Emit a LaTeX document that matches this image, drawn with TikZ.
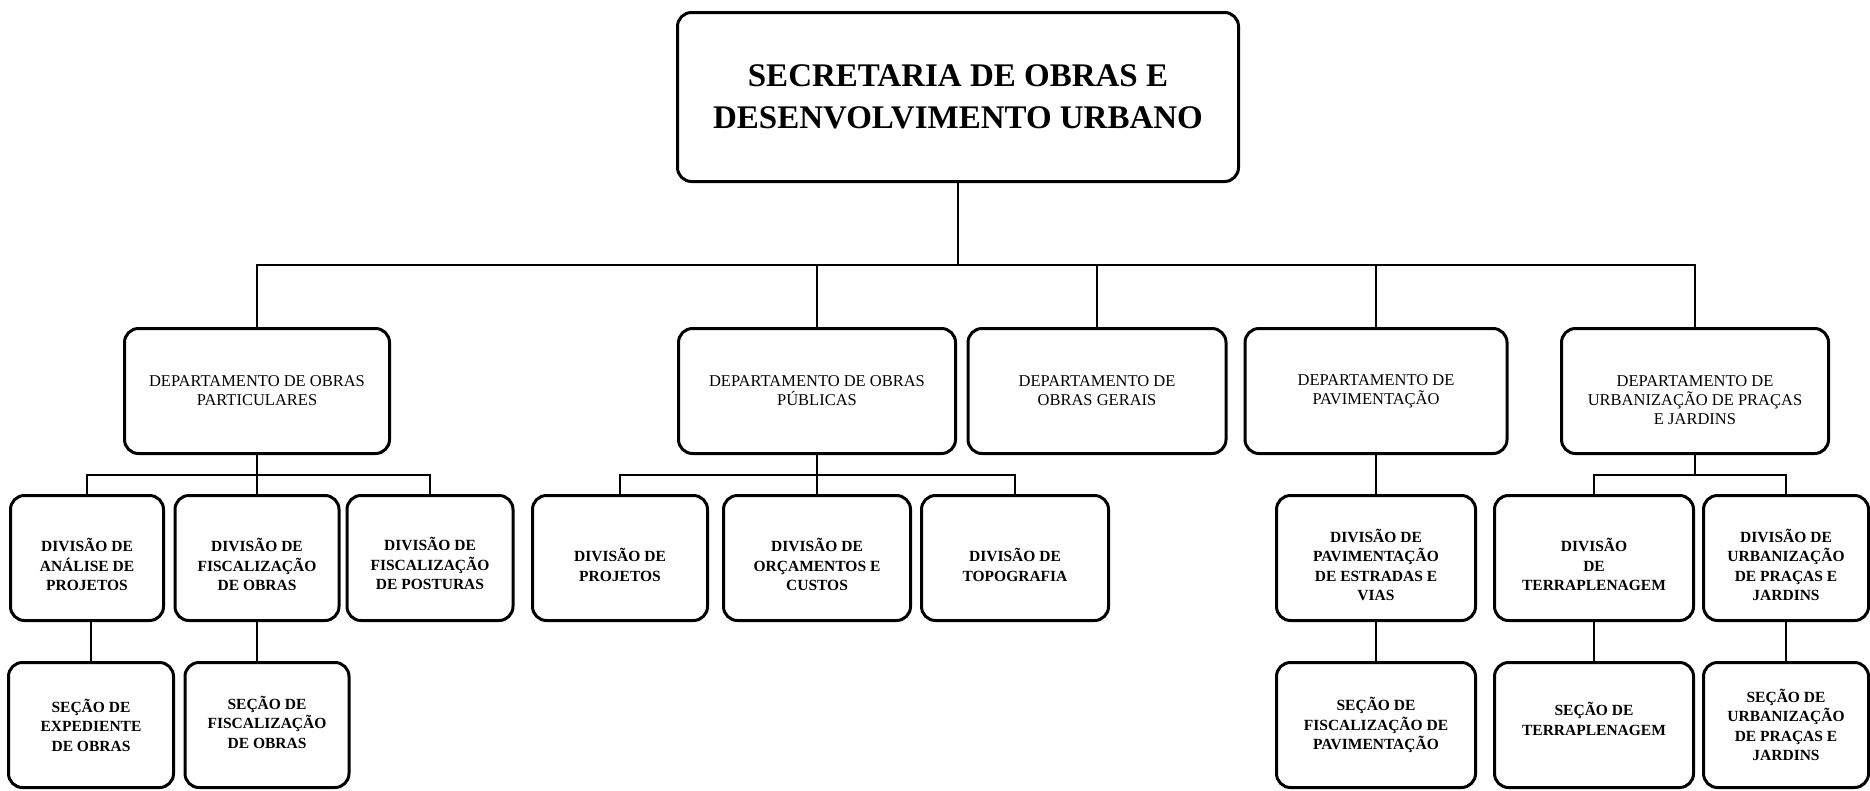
\documentclass[tikz,border=0pt]{standalone}
\usepackage{fontspec}
\setmainfont{Liberation Serif}
\newcommand{\topgap}[1]{\rule{0pt}{#1}}
\newcommand{\botgap}[1]{\rule[-#1]{0pt}{#1}}

\begin{document}
\begin{tikzpicture}[x=1pt, y=-1pt,
    main/.style = {draw, line width=3pt, rounded corners=14pt, align=center, inner sep=0pt, minimum height=125pt},
    big/.style = {main, font=\fontsize{33}{42}\selectfont\bfseries, minimum height=169pt},
    dept/.style = {main, font=\fontsize{16.5}{19}\selectfont},
    small/.style = {main, font=\fontsize{15.5}{19.5}\selectfont\bfseries},
    link/.style = {line width=2pt}]
    \fill[white] (0,0) rectangle (1870,790);
    \useasboundingbox (0,0) rectangle (1870,790);

    % secretaria
    \node[big, minimum width=561pt] (sec) at (958,97) {SECRETARIA DE OBRAS E\\DESENVOLVIMENTO URBANO};

    % departamentos
    \node[dept, minimum width=265pt] (dpart) at (257,391) {DEPARTAMENTO DE OBRAS\\PARTICULARES};
    \node[dept, minimum width=277pt] (dpub) at (817,391) {DEPARTAMENTO DE OBRAS\\PÚBLICAS};
    \node[dept, minimum width=258pt] (dger) at (1097,391) {DEPARTAMENTO DE\\OBRAS GERAIS};
    \node[dept, minimum width=262pt] (dpav) at (1376,391) {DEPARTAMENTO DE\\PAVIMENTAÇÃO};
    \node[dept, minimum width=267pt] (durb) at (1695,391) {\topgap{30pt}DEPARTAMENTO DE\\URBANIZAÇÃO DE PRAÇAS\\E JARDINS};

    % divisoes
    \node[small, minimum width=153pt] (dvanal) at (87,558) {\topgap{27pt}DIVISÃO DE\\ANÁLISE DE\\PROJETOS};
    \node[small, minimum width=164pt] (dvfisc) at (257,558) {\topgap{27pt}DIVISÃO DE\\FISCALIZAÇÃO\\DE OBRAS};
    \node[small, minimum width=166pt] (dvpost) at (430,558) {\topgap{25pt}DIVISÃO DE\\FISCALIZAÇÃO\\DE POSTURAS};
    \node[small, minimum width=175pt] (dvproj) at (620,558) {\topgap{27pt}DIVISÃO DE\\PROJETOS};
    \node[small, minimum width=187pt] (dvorc) at (817,558) {\topgap{27pt}DIVISÃO DE\\ORÇAMENTOS E\\CUSTOS};
    \node[small, minimum width=187pt] (dvtopo) at (1015,558) {\topgap{27pt}DIVISÃO DE\\TOPOGRAFIA};
    \node[small, minimum width=199pt] (dvpav) at (1376,558) {\topgap{27pt}DIVISÃO DE\\PAVIMENTAÇÃO\\DE ESTRADAS E\\VIAS};
    \node[small, minimum width=199pt] (dvterr) at (1594,558) {\topgap{27pt}DIVISÃO\\DE\\TERRAPLENAGEM};
    \node[small, minimum width=165pt] (dvurb) at (1786,558) {\topgap{27pt}DIVISÃO DE\\URBANIZAÇÃO\\DE PRAÇAS E\\JARDINS};

    % secoes
    \node[small, minimum width=165pt] (sexp) at (91,725) {SEÇÃO DE\\EXPEDIENTE\\DE OBRAS};
    \node[small, minimum width=164pt] (sfisc) at (267,725) {SEÇÃO DE\\FISCALIZAÇÃO\\DE OBRAS\botgap{6pt}};
    \node[small, minimum width=199pt] (spav) at (1376,725) {SEÇÃO DE\\FISCALIZAÇÃO DE\\PAVIMENTAÇÃO};
    \node[small, minimum width=199pt] (sterr) at (1594,725) {SEÇÃO DE\\TERRAPLENAGEM\botgap{12pt}};
    \node[small, minimum width=165pt] (surb) at (1786,725) {SEÇÃO DE\\URBANIZAÇÃO\\DE PRAÇAS E\\JARDINS};

    % ligacoes
    \coordinate (bus) at (958,265);
    \coordinate (bpart) at (257,475);
    \coordinate (bpub) at (817,475);
    \coordinate (burb) at (1695,475);

    \draw[link] (sec.south) -- (bus);
    \draw[link] (dpart.north) |- (bus) -| (durb.north);
    \foreach \n in {dpub, dger, dpav}
        \draw[link] (\n.north) -- (\n.north |- bus);

    \draw[link] (dpart.south) -- (bpart);
    \draw[link] (dvanal.north) |- (bpart) -| (dvpost.north);
    \draw[link] (dvfisc.north) -- (bpart);

    \draw[link] (dpub.south) -- (bpub);
    \draw[link] (dvproj.north) |- (bpub) -| (dvtopo.north);
    \draw[link] (dvorc.north) -- (bpub);

    \draw[link] (dpav.south) -- (dvpav.north);

    \draw[link] (durb.south) -- (burb);
    \draw[link] (dvterr.north) |- (burb) -| (dvurb.north);

    \draw[link] (sexp.north) -- (sexp.north |- dvanal.south);
    \draw[link] (dvfisc.south) -- (dvfisc.south |- sfisc.north);
    \draw[link] (dvpav.south) -- (spav.north);
    \draw[link] (dvterr.south) -- (sterr.north);
    \draw[link] (dvurb.south) -- (surb.north);
\end{tikzpicture}
\end{document}
